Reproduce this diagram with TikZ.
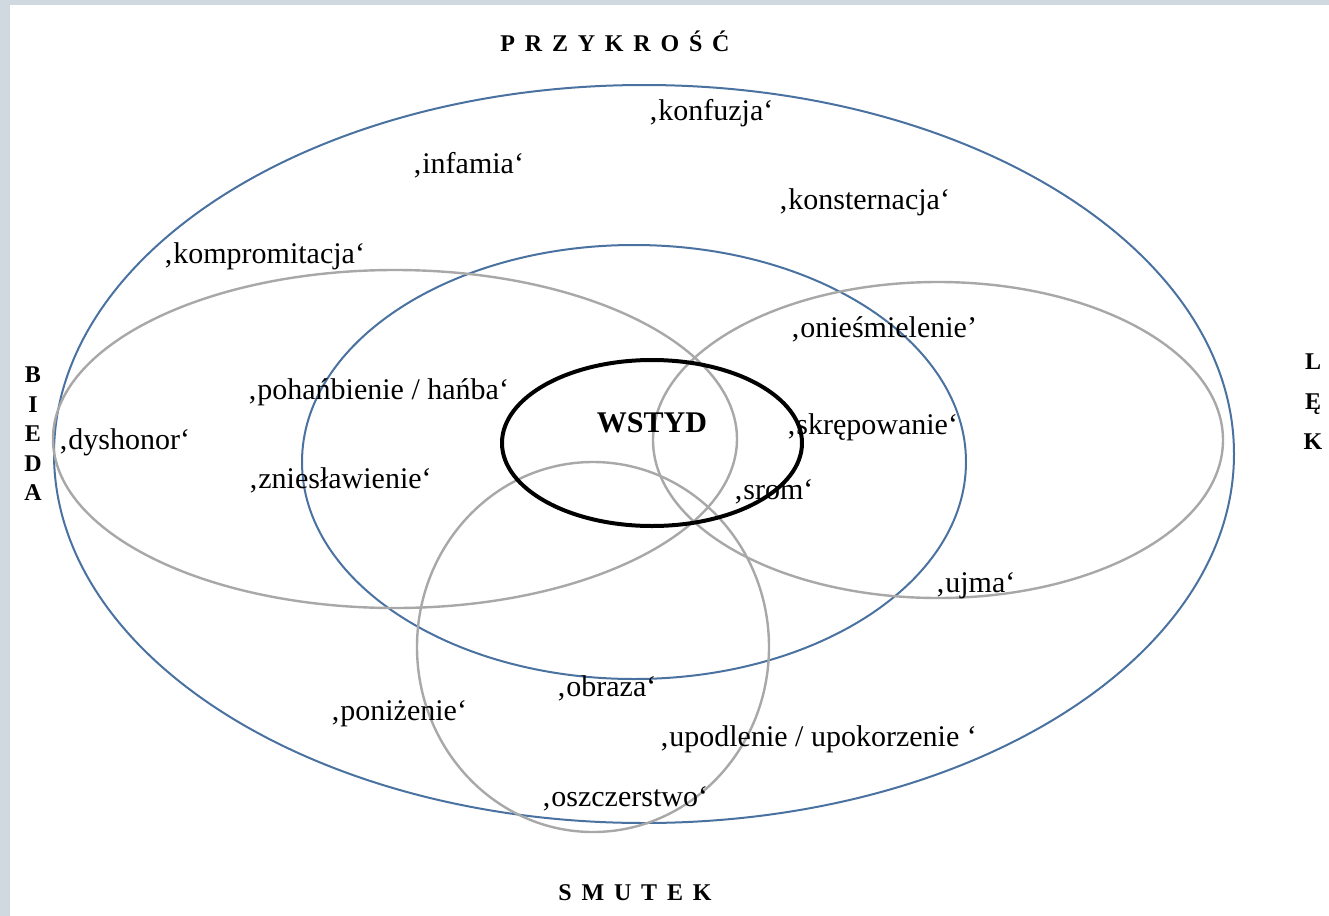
\documentclass[tikz,border=0pt]{standalone}
\usepackage{fontspec}
\setmainfont{Liberation Serif}
\definecolor{bordc}{HTML}{D1D9E0}
\definecolor{bluec}{HTML}{4A72A0}
\definecolor{grayc}{HTML}{A8A8A8}
\newcommand\gp{\kern4.9pt}
\begin{document}
\begin{tikzpicture}[x=0.5pt,y=-0.5pt,
  lbl/.style={anchor=west, inner sep=0pt, font=\fontsize{15}{18}\selectfont},
  head/.style={inner sep=0pt, font=\fontsize{12}{14}\selectfont\bfseries},
  vhead/.style={inner sep=0pt, align=center, font=\fontsize{12}{#1}\selectfont\bfseries},
  blueline/.style={draw=bluec, line width=1pt},
  grayline/.style={draw=grayc, line width=1.2pt},
  coreline/.style={draw=black, line width=2pt}]
\fill[bordc] (0,0) rectangle (1329,916);
\fill[white] (10,5) rectangle (1329,916);
\useasboundingbox (0,0) rectangle (1329,916);
% ellipses
\draw[blueline] (644,454) ellipse [x radius=295pt, y radius=184.5pt];
\draw[blueline] (634,462) ellipse [x radius=166pt, y radius=108.5pt];
\draw[grayline] (395,439) ellipse [x radius=171pt, y radius=84.5pt];
\draw[grayline] (938,440) ellipse [x radius=142.5pt, y radius=79pt];
\draw[grayline] (593,647) ellipse [x radius=88pt, y radius=92.5pt];
\draw[coreline] (652,443) ellipse [x radius=75pt, y radius=41.5pt];
% headings
\node[head] (przykrosc) at (615,41) {P\gp R\gp Z\gp Y\gp K\gp R\gp O\gp Ś\gp Ć};
\node[head] (smutek) at (635,893) {S\gp M\gp U\gp T\gp E\gp K};
\node[vhead=14.75] (bieda) at (33,434) {B\\I\\E\\D\\A};
\node[vhead=20] (lek) at (1313,402) {L\\Ę\\K};
\node[inner sep=0pt, font=\fontsize{15}{18}\selectfont\bfseries] (wstyd) at (652,423) {WSTYD};
% labels
\node[lbl] (konfuzja) at (648,113) {‚konfuzja‘};
\node[lbl] (infamia) at (412,165) {‚infamia‘};
\node[lbl] (konsternacja) at (778,202) {‚konsternacja‘};
\node[lbl] (kompromitacja) at (163,256) {‚kompromitacja‘};
\node[lbl] (niesmielenie) at (790,329) {‚onieśmielenie’};
\node[lbl] (pohanbienie) at (247,392) {‚pohańbienie / hańba‘};
\node[lbl] (dyshonor) at (58,442) {‚dyshonor‘};
\node[lbl] (skrepowanie) at (786,427) {‚skrępowanie‘};
\node[lbl] (zneslawienie) at (248,480) {‚zniesławienie‘};
\node[lbl] (srom) at (733,492) {‚srom‘};
\node[lbl] (ujma) at (935,586) {‚ujma‘};
\node[lbl] (obraza) at (556,688) {‚obraza‘};
\node[lbl] (ponizenie) at (330,714) {‚poniżenie‘};
\node[lbl] (upodlenie) at (659,739) {‚upodlenie / upokorzenie ‘};
\node[lbl] (oszczerstwo) at (541,799) {‚oszczerstwo‘};
\end{tikzpicture}
\end{document}
